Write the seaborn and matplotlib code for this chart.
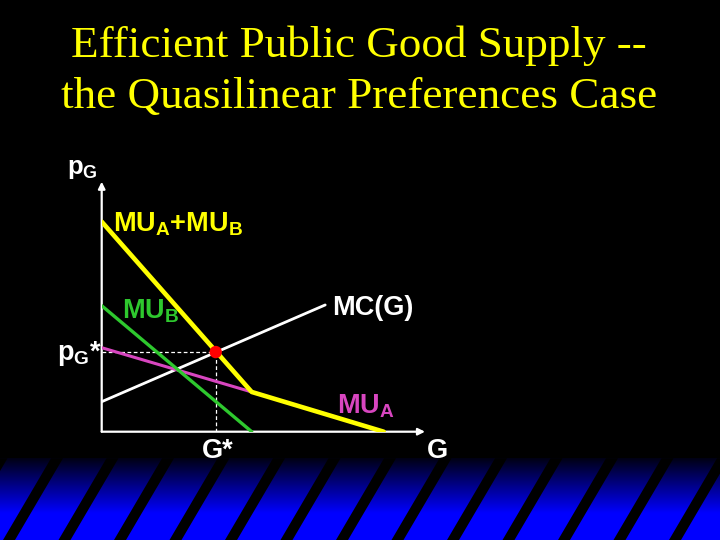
import numpy as np
import matplotlib
matplotlib.use("Agg")
import matplotlib.pyplot as plt
import seaborn as sns

# data (chart units)
G_b = [0, 10]
mu_b = [8.4, 0]
G_a = [0, 10]
mu_a = [5.6, 2.65]
G_sum = [0, 10, 18.8]
mu_sum = [14.0, 2.65, 0]
G_mc = [0, 14.9]
mc = [2.0, 8.45]
G_star = 7.6
p_star = 5.31

title_lines = ["Efficient Public Good Supply --", "the Quasilinear Preferences Case"]

sns.set_theme(style="dark", rc={"axes.facecolor": "black", "figure.facecolor": "black"})
plt.rcParams["font.family"] = ["Liberation Sans", "DejaVu Sans"]
plt.rcParams["mathtext.fontset"] = "custom"
plt.rcParams["mathtext.rm"] = "Liberation Sans:bold"
plt.rcParams["mathtext.it"] = "Liberation Sans:bold"
plt.rcParams["mathtext.bf"] = "Liberation Sans:bold"

W, H = 720, 540
fig = plt.figure(figsize=(7.2, 5.4), dpi=100)
fig.patch.set_facecolor("black")

# bottom decoration band (gradient + slanted black stripes)
band_top = 458.3
bax = fig.add_axes([0, 0, 1, (H - band_top) / H])
yy = np.linspace(band_top, H, 100)
blue = np.clip(20 + (yy - band_top) / 55 * 235, 0, 255) / 255
grad = np.zeros((100, 2, 3))
grad[:, :, 2] = blue[:, None]
bax.imshow(grad, extent=[0, W, H, band_top], aspect="auto", interpolation="bilinear")
shift = 48
for k in range(-1, 15):
    xt = 57 + 55.5 * k
    bax.fill([xt - 6, xt + 6, xt + 6 - shift, xt - 6 - shift],
             [band_top, band_top, H, H], color="black", lw=0)
bax.set_xlim(0, W)
bax.set_ylim(H, band_top)
bax.axis("off")

# title
fig.text(359 / W, 1 - 56.7 / H, title_lines[0], color="#ffff00", fontsize=32.5,
         family="Liberation Serif", ha="center", va="baseline")
fig.text(359.5 / W, 1 - 108.3 / H, title_lines[1], color="#ffff00", fontsize=32.5,
         family="Liberation Serif", ha="center", va="baseline")

# main diagram axes
ox, oy, sc = 101.7, 431.7, 15.0
ax = fig.add_axes([ox / W, (H - oy) / H, (425 - ox) / W, (oy - 181.7) / H])
ax.set_xlim(0, (425 - ox) / sc)
ax.set_ylim(0, (oy - 181.7) / sc)
ax.axis("off")


def px(x, y):
    return (x - ox) / sc, (oy - y) / sc


xmax, ymax = ax.get_xlim()[1], ax.get_ylim()[1]
arrow = dict(arrowstyle="-|>", color="white", lw=1.6, mutation_scale=10, shrinkA=0, shrinkB=0)
ax.annotate("", xy=(xmax, 0), xytext=(0, 0), arrowprops=arrow)
ax.annotate("", xy=(0, ymax), xytext=(0, 0), arrowprops=arrow)

# dashed guides
ax.plot([0, G_star], [p_star, p_star], color="white", lw=0.9, ls=(0, (3, 2)), zorder=1)
ax.plot([G_star, G_star], [0, p_star], color="white", lw=0.9, ls=(0, (3, 2)), zorder=1)

sns.lineplot(x=G_mc, y=mc, ax=ax, color="white", linewidth=2.0, zorder=2)
sns.lineplot(x=G_a, y=mu_a, ax=ax, color="#d846c0", linewidth=2.2, zorder=3)
sns.lineplot(x=G_b, y=mu_b, ax=ax, color="#2ec82e", linewidth=2.4, zorder=4)
sns.lineplot(x=G_sum, y=mu_sum, ax=ax, color="#ffff00", linewidth=3.3, zorder=5)
sns.scatterplot(x=[G_star], y=[p_star], ax=ax, s=80, color="#ff0000", edgecolor="none", zorder=6)

# labels
fs = 19.5
ax.text(*px(67, 174), r"$\mathrm{p_G}$", color="white", fontsize=fs - 1, fontweight="bold",
        ha="left", va="baseline", clip_on=False)
ax.text(*px(113, 231), r"$\mathrm{MU_A{+}MU_B}$", color="#ffff00", fontsize=fs,
        fontweight="bold", ha="left", va="baseline", clip_on=False)
ax.text(*px(121.7, 318.3), r"$\mathrm{MU_B}$", color="#2ec82e", fontsize=fs,
        fontweight="bold", ha="left", va="baseline", clip_on=False)
ax.text(*px(331.7, 315), "MC(G)", color="white", fontsize=fs, fontweight="bold",
        ha="left", va="baseline", clip_on=False)
ax.text(*px(56.7, 359.6), r"$\mathrm{p_G}$*", color="white", fontsize=fs, fontweight="bold",
        ha="left", va="baseline", clip_on=False)
ax.text(*px(336.7, 413.3), r"$\mathrm{MU_A}$", color="#d846c0", fontsize=fs,
        fontweight="bold", ha="left", va="baseline", clip_on=False)
ax.text(*px(201.7, 458), "G*", color="white", fontsize=fs, fontweight="bold",
        ha="left", va="baseline", clip_on=False)
ax.text(*px(426.7, 458), "G", color="white", fontsize=fs, fontweight="bold",
        ha="left", va="baseline", clip_on=False)

fig.savefig("out.png", dpi=100, facecolor="black")
